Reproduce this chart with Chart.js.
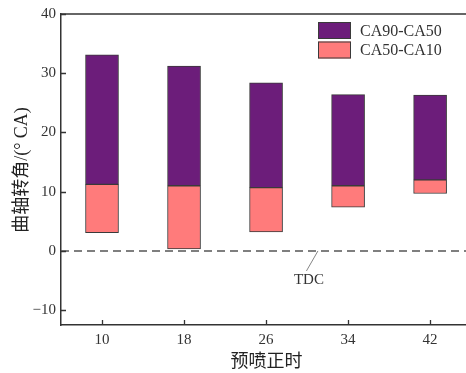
<!DOCTYPE html>
<html>
<head>
<meta charset="utf-8">
<script src="https://cdn.jsdelivr.net/npm/chart.js@4/dist/chart.umd.min.js"></script>
<style>
  html, body { margin: 0; padding: 0; background: #fff; }
  #wrap { width: 466px; height: 373px; }
</style>
</head>
<body>
<div id="wrap"><canvas id="c" width="466" height="373"></canvas></div>
<script>
// Pilot-injection timing (x) and combustion phase boundaries in °CA
const timings = [10, 18, 26, 34, 42];
const ca10 = [3.1, 0.35, 3.2, 7.4, 9.7];
const ca50 = [11.25, 11.0, 10.7, 11.0, 12.0];
const ca90 = [33.1, 31.2, 28.4, 26.4, 26.3];
const yTicks = [-10, 0, 10, 20, 30, 40];
const seriesNames = ['CA90-CA50', 'CA50-CA10'];
const xTitle = '预喷正时';
const yTitle = '曲轴转角/(° CA)';
const tdcLabel = 'TDC';
const tdcAt = 31.06;   // x value where the TDC leader meets the zero line

const SERIF = '"Liberation Serif", "Noto Sans CJK SC", serif';
const AXIS = '#333';
const PURPLE = '#6c1d7a';
const PINK = '#ff7b7b';
const EDGE = '#3a3a3a';

const upper = timings.map((t, i) => ({ x: t, y: [ca50[i], ca90[i]] }));
const lower = timings.map((t, i) => ({ x: t, y: [ca10[i], ca50[i]] }));

// Axis titles, inward ticks, frame top line, zero line, TDC note and legend
const decor = {
  id: 'decor',
  beforeDatasetsDraw(chart) {
    const { ctx, chartArea: a, scales: { y } } = chart;
    const y0 = y.getPixelForValue(0);
    ctx.save();
    ctx.strokeStyle = '#555';
    ctx.lineWidth = 1.6;
    ctx.setLineDash([8, 5]);
    ctx.beginPath();
    ctx.moveTo(a.left, y0);
    ctx.lineTo(a.right, y0);
    ctx.stroke();
    ctx.restore();
  },
  afterDraw(chart) {
    const { ctx, chartArea: a, scales: { x, y } } = chart;
    ctx.save();
    // top frame line
    ctx.strokeStyle = AXIS;
    ctx.lineWidth = 1.5;
    ctx.beginPath();
    ctx.moveTo(a.left, a.top);
    ctx.lineTo(a.right, a.top);
    ctx.stroke();
    // inward tick marks
    ctx.lineWidth = 1.3;
    ctx.beginPath();
    yTicks.forEach(v => {
      const p = Math.round(y.getPixelForValue(v)) + 0.5;
      ctx.moveTo(a.left, p);
      ctx.lineTo(a.left + 5, p);
    });
    timings.forEach(v => {
      const p = Math.round(x.getPixelForValue(v)) + 0.5;
      ctx.moveTo(p, a.bottom);
      ctx.lineTo(p, a.bottom - 5);
    });
    ctx.stroke();

    // TDC note
    const tx = x.getPixelForValue(tdcAt);
    const ty = y.getPixelForValue(0);
    ctx.strokeStyle = '#666';
    ctx.lineWidth = 0.8;
    ctx.beginPath();
    ctx.moveTo(tx, ty);
    ctx.lineTo(tx - 11.5, ty + 20);
    ctx.stroke();
    ctx.fillStyle = '#333';
    ctx.font = '15px ' + SERIF;
    ctx.textAlign = 'center';
    ctx.textBaseline = 'middle';
    ctx.fillText(tdcLabel, tx - 9, ty + 29);

    // axis titles
    ctx.font = '18px ' + SERIF;
    ctx.fillStyle = '#222';
    ctx.fillText(xTitle, (a.left + a.right) / 2 + 3, 362);
    ctx.save();
    ctx.translate(22, 170);
    ctx.rotate(-Math.PI / 2);
    ctx.fillText(yTitle, 0, 0);
    ctx.restore();

    // legend, in the order of the stacked segments from top
    const order = [0, 1];
    ctx.font = '16px ' + SERIF;
    ctx.textAlign = 'left';
    order.forEach((di, k) => {
      const ds = chart.data.datasets[di];
      const bx = 318, by = 22 + k * 19.5, bw = 33, bh = 17;
      ctx.fillStyle = ds.backgroundColor;
      ctx.fillRect(bx, by, bw, bh);
      ctx.strokeStyle = EDGE;
      ctx.lineWidth = 1;
      ctx.strokeRect(bx + 0.5, by + 0.5, bw - 1, bh - 1);
      ctx.fillStyle = '#333';
      ctx.fillText(ds.label, 360, by + bh / 2 + 1);
    });
    ctx.restore();
  }
};

new Chart(document.getElementById('c'), {
  type: 'bar',
  data: {
    datasets: [
      { label: seriesNames[0], data: upper, backgroundColor: PURPLE, borderColor: EDGE,
        borderWidth: 1, borderSkipped: false, grouped: false, barThickness: 33 },
      { label: seriesNames[1], data: lower, backgroundColor: PINK, borderColor: EDGE,
        borderWidth: 1, borderSkipped: false, grouped: false, barThickness: 33 }
    ]
  },
  options: {
    responsive: false,
    animation: false,
    layout: { padding: { top: 13.5, right: 0, bottom: 0, left: 0 } },
    plugins: { legend: { display: false }, tooltip: { enabled: false } },
    scales: {
      x: {
        type: 'linear',
        offset: false,
        min: 6,
        max: 45.5,
        afterBuildTicks(s) { s.ticks = timings.map(v => ({ value: v })); },
        afterFit(s) { s.height = 48; },
        grid: { display: false, drawTicks: false, offset: false },
        border: { display: true, color: AXIS, width: 1.5 },
        ticks: { color: '#333', padding: 6, font: { family: SERIF, size: 15 } }
      },
      y: {
        min: -12.5,
        max: 40,
        afterBuildTicks(s) { s.ticks = yTicks.map(v => ({ value: v })); },
        afterFit(s) { s.width = 61; },
        grid: { display: false, drawTicks: false },
        border: { display: true, color: AXIS, width: 1.5 },
        ticks: {
          color: '#333', padding: 5, font: { family: SERIF, size: 15 },
          callback: v => String(v).replace('-', '−')
        }
      }
    }
  },
  plugins: [decor]
});
</script>
</body>
</html>
